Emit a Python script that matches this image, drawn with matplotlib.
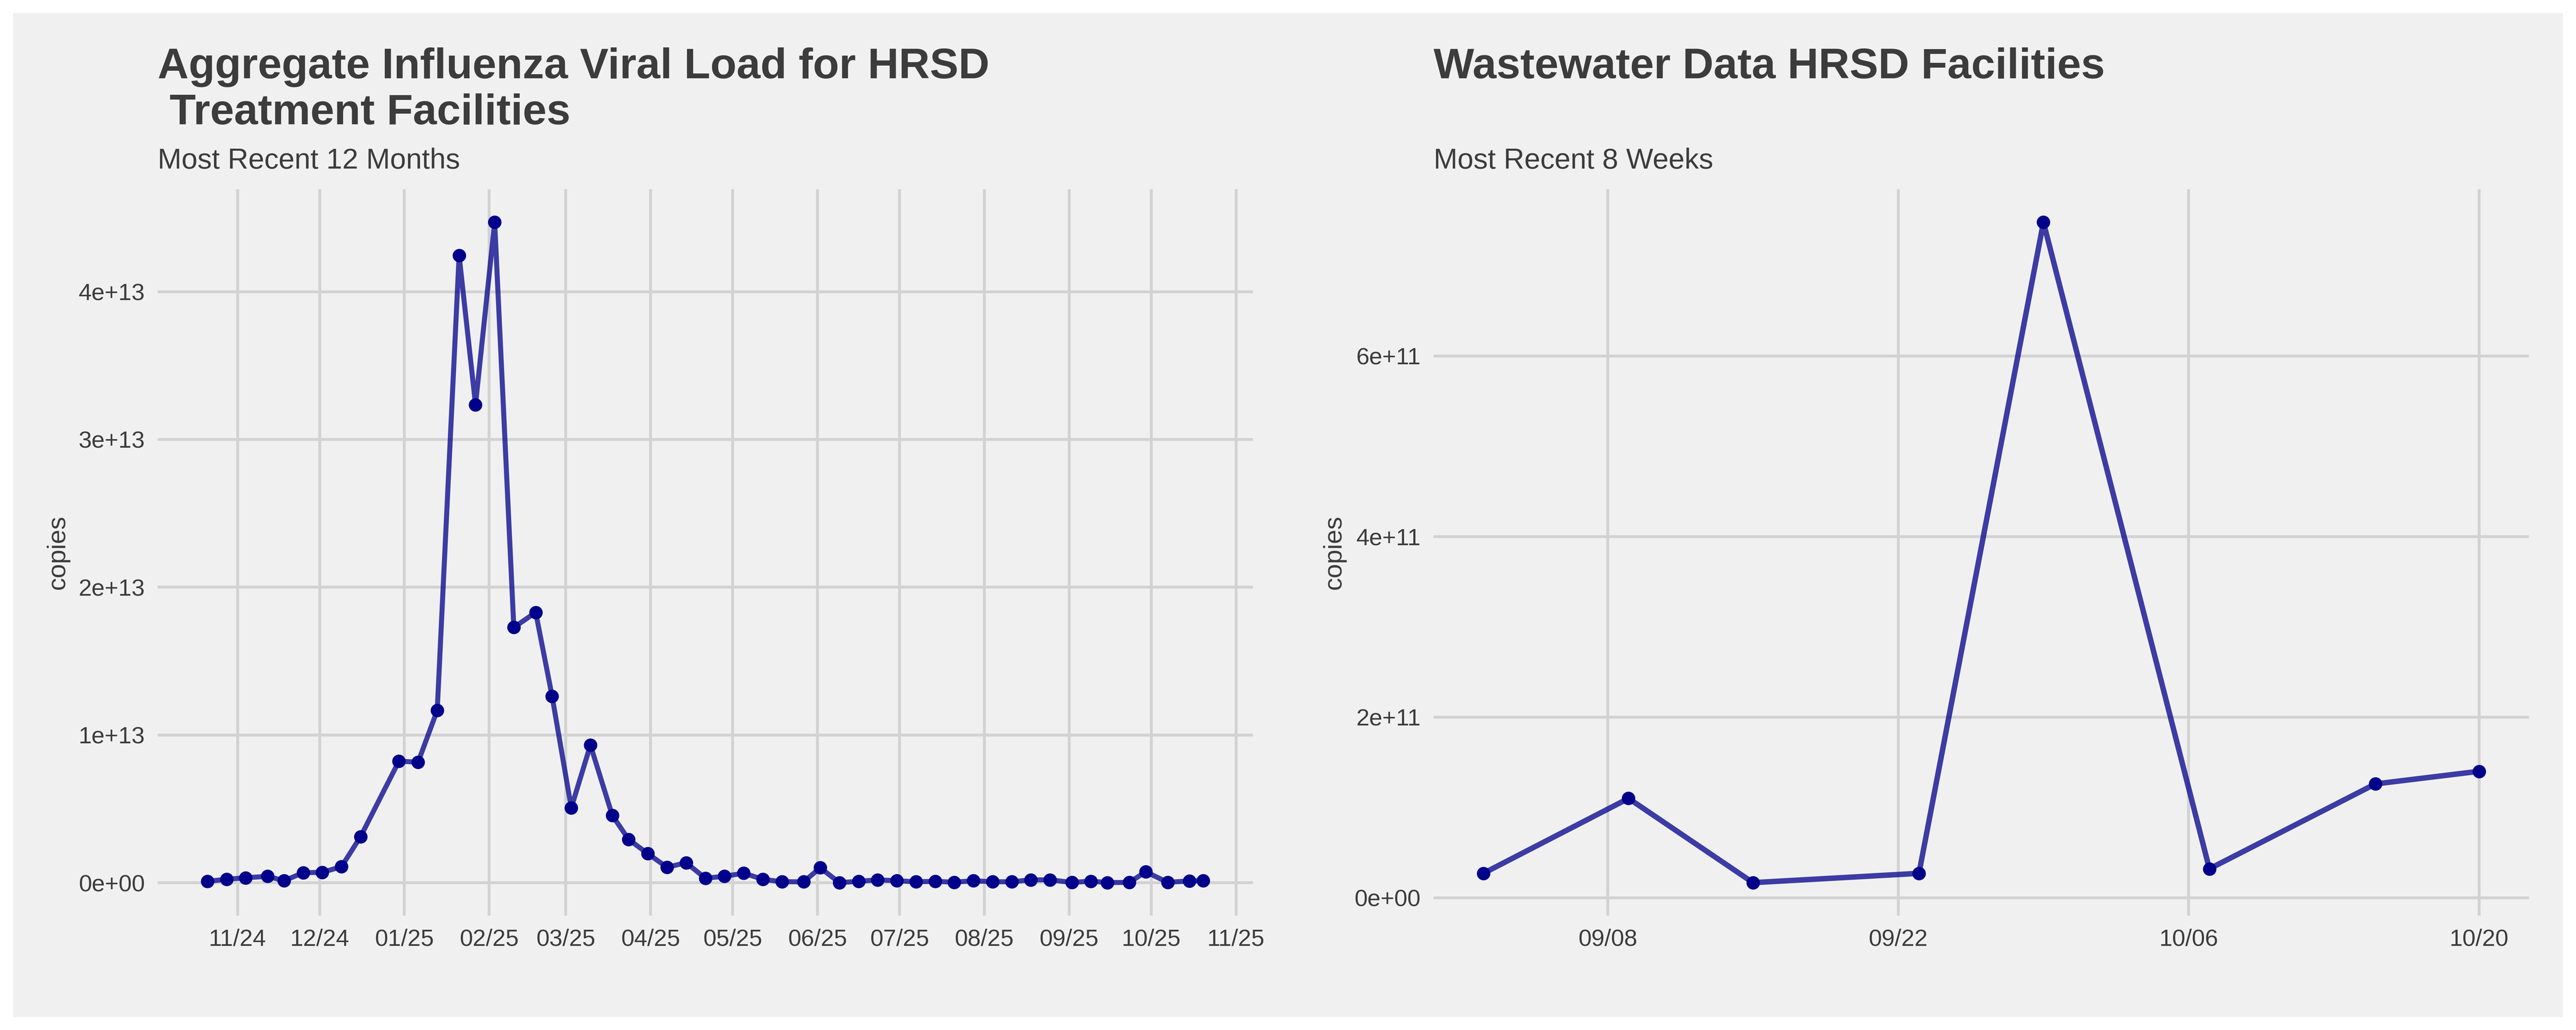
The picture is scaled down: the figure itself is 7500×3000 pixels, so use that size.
import matplotlib
matplotlib.use("Agg")
import matplotlib.pyplot as plt
import matplotlib.dates as mdates
from matplotlib.ticker import MultipleLocator, FormatStrFormatter
from matplotlib.patches import Rectangle
import pandas as pd

# weekly aggregate influenza load, last 12 months
year_dates = ['2024-10-21', '2024-10-28', '2024-11-04', '2024-11-12', '2024-11-18',
              '2024-11-25', '2024-12-02', '2024-12-09', '2024-12-16', '2024-12-30',
              '2025-01-06', '2025-01-13', '2025-01-21', '2025-01-27', '2025-02-03',
              '2025-02-10', '2025-02-18', '2025-02-24', '2025-03-03', '2025-03-10',
              '2025-03-18', '2025-03-24', '2025-03-31', '2025-04-07', '2025-04-14',
              '2025-04-21', '2025-04-28', '2025-05-05', '2025-05-12', '2025-05-19',
              '2025-05-27', '2025-06-02', '2025-06-09', '2025-06-16', '2025-06-23',
              '2025-06-30', '2025-07-07', '2025-07-14', '2025-07-21', '2025-07-28',
              '2025-08-04', '2025-08-11', '2025-08-18', '2025-08-25', '2025-09-02',
              '2025-09-09', '2025-09-15', '2025-09-23', '2025-09-29', '2025-10-07',
              '2025-10-15', '2025-10-20']
year_copies_e12 = [0.10, 0.24, 0.34, 0.44, 0.14, 0.68, 0.71, 1.09, 3.13, 8.23,
                   8.16, 11.67, 42.45, 32.35, 44.70, 17.28, 18.30, 12.62, 5.07, 9.32,
                   4.56, 2.93, 1.97, 1.05, 1.36, 0.31, 0.44, 0.65, 0.24, 0.07,
                   0.07, 1.02, 0.01, 0.10, 0.20, 0.14, 0.07, 0.10, 0.04, 0.14,
                   0.07, 0.07, 0.20, 0.20, 0.027, 0.11, 0.017, 0.027, 0.748, 0.032,
                   0.126, 0.14]

# last 8 weeks
week_dates = ['2025-09-02', '2025-09-09', '2025-09-15', '2025-09-23',
              '2025-09-29', '2025-10-07', '2025-10-15', '2025-10-20']
week_copies_e11 = [0.27, 1.10, 0.167, 0.27, 7.48, 0.32, 1.26, 1.40]
week_ticks = ['2025-09-08', '2025-09-22', '2025-10-06', '2025-10-20']

BG = '#F0F0F0'
GRID = '#D2D2D2'
TXT = '#3C3C3C'
FONT = ['Liberation Sans', 'DejaVu Sans']

plt.rcParams['font.family'] = FONT
plt.rcParams['text.color'] = TXT

fig = plt.figure(figsize=(25, 10), dpi=300, facecolor='white')
fig.patches.append(Rectangle((38 / 7500, 38 / 3000), 1 - 76 / 7500, 1 - 76 / 3000,
                             transform=fig.transFigure, facecolor=BG,
                             edgecolor='none', zorder=-10))

LEFT1 = 0.0612
LEFT2 = 0.5565
ax1 = fig.add_axes([LEFT1, 0.111, 0.4252, 0.7053])
ax2 = fig.add_axes([LEFT2, 0.111, 0.4252, 0.7053])


def style(ax):
    ax.set_facecolor(BG)
    for s in ax.spines.values():
        s.set_visible(False)
    ax.grid(True, color=GRID, linewidth=2.0)
    ax.set_axisbelow(True)
    ax.tick_params(length=0, pad=9, labelsize=16.5, labelcolor=TXT)
    ax.set_ylabel('copies', fontsize=18, color=TXT, labelpad=6)
    ax.margins(0.05)


x1 = pd.to_datetime(year_dates)
y1 = [v * 1e12 for v in year_copies_e12]
ax1.plot(x1, y1, color='darkblue', alpha=0.75, linewidth=3.5, zorder=2)
ax1.plot(x1, y1, 'o', color='darkblue', markersize=8.4, zorder=3)
style(ax1)
ax1.xaxis.set_major_locator(mdates.MonthLocator())
ax1.xaxis.set_major_formatter(mdates.DateFormatter('%m/%y'))
ax1.yaxis.set_major_locator(MultipleLocator(1e13))
ax1.yaxis.set_major_formatter(FormatStrFormatter('%.0e'))

x2 = pd.to_datetime(week_dates)
y2 = [v * 1e11 for v in week_copies_e11]
ax2.plot(x2, y2, color='darkblue', alpha=0.75, linewidth=3.8, zorder=2)
ax2.plot(x2, y2, 'o', color='darkblue', markersize=8.4, zorder=3)
style(ax2)
ax2.set_xticks(pd.to_datetime(week_ticks))
ax2.xaxis.set_major_formatter(mdates.DateFormatter('%m/%d'))
ax2.yaxis.set_major_locator(MultipleLocator(2e11))
ax2.yaxis.set_major_formatter(FormatStrFormatter('%.0e'))

# titles and subtitles
fig.text(LEFT1, 1 - 228 / 3000, 'Aggregate Influenza Viral Load for HRSD',
         fontsize=30, fontweight='bold', color=TXT, va='baseline')
fig.text(LEFT1, 1 - 362 / 3000, ' Treatment Facilities',
         fontsize=30, fontweight='bold', color=TXT, va='baseline')
fig.text(LEFT1, 1 - 491 / 3000, 'Most Recent 12 Months',
         fontsize=20, color=TXT, va='baseline')
fig.text(LEFT2, 1 - 228 / 3000, 'Wastewater Data HRSD Facilities',
         fontsize=30, fontweight='bold', color=TXT, va='baseline')
fig.text(LEFT2, 1 - 491 / 3000, 'Most Recent 8 Weeks',
         fontsize=20, color=TXT, va='baseline')

fig.savefig('out.png', dpi=300, facecolor='white')
